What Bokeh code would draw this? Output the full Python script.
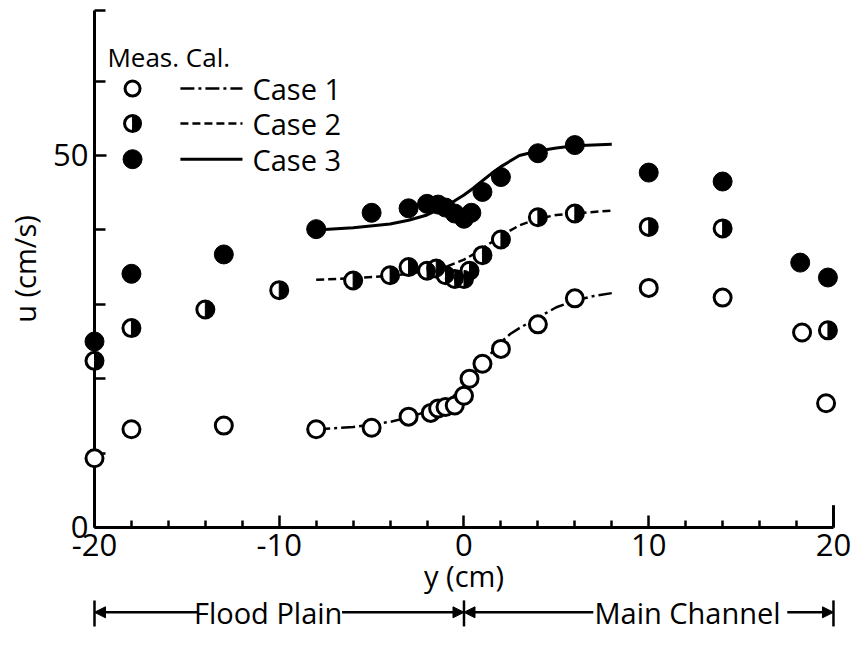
import numpy as np
from bokeh.plotting import figure
from bokeh.models import Range1d, FixedTicker, Arrow, NormalHead
from bokeh.core.properties import value
from bokeh.embed import file_html
from bokeh.resources import INLINE

# ---------------- data ----------------
# Measured points
meas1_y = [-20, -18, -13, -8, -5, -3, -1.8, -1.4, -1, -0.5, 0, 0.3, 1, 2, 4, 6, 10, 14, 18.3, 19.6]
meas1_u = [9.3, 13.2, 13.7, 13.2, 13.4, 14.9, 15.4, 16.0, 16.2, 16.4, 17.7, 20.0, 22.0, 24.0, 27.3, 30.8, 32.2, 30.9, 26.2, 16.7]

meas2_y = [-20, -18, -14, -10, -6, -4, -3, -2, -1.5, -1, -0.5, 0, 0.3, 1, 2, 4, 6, 10, 14, 19.7]
meas2_u = [22.4, 26.8, 29.3, 31.9, 33.2, 33.9, 35.0, 34.5, 34.8, 33.9, 33.4, 33.4, 34.5, 36.6, 38.7, 41.7, 42.2, 40.4, 40.2, 26.5]

meas3_y = [-20, -18, -13, -8, -5, -3, -2, -1.4, -1, -0.5, 0, 0.4, 1, 2, 4, 6, 10, 14, 18.2, 19.7]
meas3_u = [25.0, 34.1, 36.7, 40.1, 42.3, 42.9, 43.5, 43.4, 43.0, 42.2, 41.5, 42.3, 45.1, 47.1, 50.3, 51.4, 47.7, 46.5, 35.6, 33.6]

# Calculated curves
cal1_y = [-8, -6, -4, -3, -2, -1, -0.5, 0, 0.5, 1, 1.5, 2, 2.5, 3, 4, 5, 6, 7, 8]
cal1_u = [13.2, 13.5, 14.2, 14.8, 15.6, 16.8, 17.8, 19.0, 20.5, 22.0, 23.5, 24.9, 26.0, 26.8, 28.2, 29.6, 30.5, 31.1, 31.5]

cal2_y = [-8, -6, -4, -3, -2, -1, -0.5, 0, 0.5, 1, 2, 3, 4, 5, 6, 7, 8]
cal2_u = [33.3, 33.5, 33.8, 34.1, 34.5, 35.0, 35.5, 36.0, 36.7, 37.5, 39.2, 40.6, 41.5, 42.0, 42.2, 42.4, 42.6]

cal3_y = [-8, -6, -4, -3, -2, -1, -0.5, 0, 0.5, 1, 1.5, 2, 3, 4, 5, 6, 7, 8]
cal3_u = [40.0, 40.3, 40.8, 41.3, 42.0, 43.2, 43.9, 44.7, 45.6, 46.6, 47.6, 48.5, 50.0, 50.6, 51.0, 51.3, 51.4, 51.5]

# Axes / labels
x_ticks = [-20, -10, 0, 10, 20]
x_minor = [-18, -16, -14, -12, -8, -6, -4, -2, 2, 4, 6, 8, 12, 14, 16, 18]
x_tick_labels = ["-20", "-10", "0", "10", "20"]
u_ticks = [0, 50]
u_minor = [10, 20, 30, 40, 60]
u_top = 69.5
x_label = "y (cm)"
u_label = "u (cm/s)"
legend_head = "Meas. Cal."
case_names = ["Case 1", "Case 2", "Case 3"]
region_names = ["Flood Plain", "Main Channel"]
region_bounds = [-20, 0, 20]

# ---------------- styling ----------------
FONT = "Open Sans"
INK = "black"
W, H = 852, 640

p = figure(width=W, height=H, output_backend="svg", toolbar_location=None,
           x_range=Range1d(-25.088, 21.03), y_range=Range1d(-15.19, 70.83),
           min_border=0, min_border_left=0, min_border_right=0,
           min_border_top=0, min_border_bottom=0,
           outline_line_color=None, background_fill_color="white")
p.grid.visible = False

# x axis (at u = 0)
xa = p.xaxis[0]
xa.fixed_location = 0
xa.bounds = (region_bounds[0], region_bounds[-1])
xa.ticker = FixedTicker(ticks=x_ticks, minor_ticks=x_minor)
xa.major_label_overrides = {t: s for t, s in zip(x_ticks, x_tick_labels)}
xa.axis_line_width = 3
xa.axis_line_color = INK
xa.major_tick_in = 12
xa.major_tick_out = 0
xa.minor_tick_in = 7
xa.minor_tick_out = 0
xa.major_tick_line_width = 2.5
xa.minor_tick_line_width = 2.5
xa.major_label_text_font = FONT
xa.major_label_text_font_size = "31px"
xa.major_label_text_color = INK
xa.major_label_standoff = 7
xa.axis_label = x_label
xa.axis_label_text_font = FONT
xa.axis_label_text_font_size = "29px"
xa.axis_label_text_font_style = "normal"
xa.axis_label_text_color = INK
xa.axis_label_standoff = -4

# u axis (at y = -20)
ya = p.yaxis[0]
ya.fixed_location = region_bounds[0]
ya.bounds = (0, u_top)
ya.ticker = FixedTicker(ticks=u_ticks, minor_ticks=u_minor + [u_top])
ya.axis_line_width = 3
ya.axis_line_color = INK
ya.major_tick_in = 12
ya.major_tick_out = 0
ya.minor_tick_in = 11
ya.minor_tick_out = 0
ya.major_tick_line_width = 2.5
ya.minor_tick_line_width = 2.5
ya.major_label_text_font = FONT
ya.major_label_text_font_size = "31px"
ya.major_label_text_color = INK
ya.major_label_standoff = 6
ya.axis_label = u_label
ya.axis_label_text_font = FONT
ya.axis_label_text_font_size = "29px"
ya.axis_label_text_font_style = "normal"
ya.axis_label_text_color = INK
ya.axis_label_standoff = 6

# end cap at y = 20
p.segment(x0=[region_bounds[-1]], y0=[0], x1=[region_bounds[-1]], y1=[3.0],
          line_color=INK, line_width=3)

# calculated curves
p.line(cal1_y, cal1_u, line_color=INK, line_width=2.5, line_dash="14 4 3 4")
p.line(cal2_y, cal2_u, line_color=INK, line_width=2.5, line_dash="8 4")
p.line(cal3_y, cal3_u, line_color=INK, line_width=3)

MS = 17
R = MS / 2


def half_marker(xs, ys, size=MS):
    c = p.scatter(xs, ys, marker="circle", size=size, fill_color="white",
                  line_color=INK, line_width=3)
    w = p.wedge(xs, ys, radius=size / 2, radius_units="screen",
                start_angle=-np.pi / 2, end_angle=np.pi / 2,
                fill_color=INK, line_color=INK, line_width=1)
    c.level = "annotation"
    w.level = "annotation"


# measured points
r1 = p.scatter(meas1_y, meas1_u, marker="circle", size=MS, fill_color="white",
               line_color=INK, line_width=3)
r1.level = "annotation"
half_marker(meas2_y, meas2_u)
r3 = p.scatter(meas3_y, meas3_u, marker="circle", size=MS + 2, fill_color=INK,
               line_color=INK, line_width=1)
r3.level = "annotation"

# ---------------- legend (custom two-column) ----------------
lx_mark = -17.94
lx_line0, lx_line1 = -15.35, -11.99
lx_text = -11.45
ly = [59.0, 54.3, 49.5]
p.text(x=[-19.3], y=[63.3], text=[legend_head], text_font=value(FONT),
       text_font_size="26px", text_align="left", text_baseline="middle",
       text_color=INK)
p.scatter([lx_mark], [ly[0]], marker="circle", size=MS - 2, fill_color="white",
          line_color=INK, line_width=3)
half_marker([lx_mark], [ly[1]], size=MS - 1)
p.scatter([lx_mark], [ly[2]], marker="circle", size=MS + 2, fill_color=INK,
          line_color=INK)
p.line([lx_line0, lx_line1], [ly[0], ly[0]], line_color=INK, line_width=2.5,
       line_dash="14 4 3 4")
p.line([lx_line0, lx_line1], [ly[1], ly[1]], line_color=INK, line_width=2.5,
       line_dash="8 4")
p.line([lx_line0, lx_line1], [ly[2], ly[2]], line_color=INK, line_width=3)
p.text(x=[lx_text] * 3, y=ly, text=case_names, text_font=value(FONT),
       text_font_size="29px", text_align="left", text_baseline="middle",
       text_color=INK)

# ---------------- region annotation below the axis ----------------
ay = -11.4
p.segment(x0=region_bounds, y0=[-9.8] * 3, x1=region_bounds, y1=[-13.3] * 3,
          line_color=INK, line_width=2.5)
arrow_specs = [(-14.4, -20), (-6.6, 0), (7.0, 0), (17.5, 20)]
for xs, xe in arrow_specs:
    p.add_layout(Arrow(end=NormalHead(size=11, fill_color=INK, line_color=INK),
                       x_start=xs, y_start=ay, x_end=xe, y_end=ay,
                       line_color=INK, line_width=2.5))
p.text(x=[-10.6, 12.1], y=[ay, ay], text=region_names, text_font=value(FONT),
       text_font_size="29px", text_align="center", text_baseline="middle",
       text_color=INK)

open("out.html", "w").write(file_html(p, INLINE))
